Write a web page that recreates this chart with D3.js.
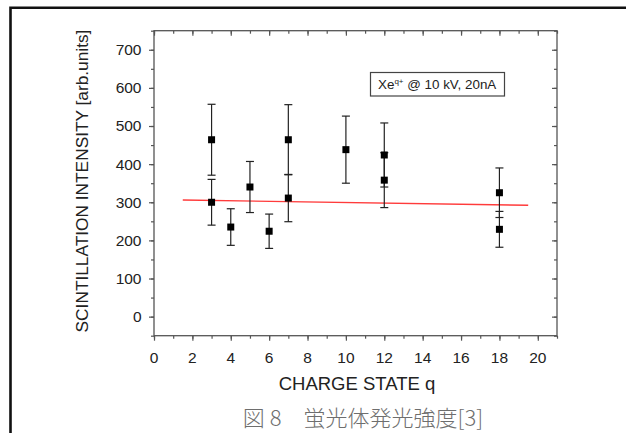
<!DOCTYPE html>
<html>
<head>
<meta charset="utf-8">
<script src="https://cdn.jsdelivr.net/npm/d3@7"></script>
<style>
  body { margin: 0; background: #fff; }
  svg { display: block; }
  text { font-family: "Liberation Sans", Arial, sans-serif; }
</style>
</head>
<body>
<svg width="626" height="433"></svg>
<script>
// data
const chargeState = [3, 3, 4, 5, 6, 7, 7, 10, 12, 12, 18, 18];
const intensity   = [464, 300, 235, 340, 224, 464, 311, 438, 424, 358, 325, 229];
const errors      = [93, 60, 48, 67, 45, 92, 62, 88, 84, 72, 65, 47];
const fitQ = [1.5, 19.5];
const fitI = [306, 292];
const xTicks = [0, 2, 4, 6, 8, 10, 12, 14, 16, 18, 20];
const yTicks = [0, 100, 200, 300, 400, 500, 600, 700];

const width = 626, height = 433;
const plot = { left: 154, right: 557, top: 30.7, bottom: 335.7 };
const svg = d3.select("svg");

const x = d3.scaleLinear().domain([0, 21]).range([plot.left, plot.right]);
const y = d3.scaleLinear().domain([-50, 750]).range([plot.bottom, plot.top]);

// outer page frame
svg.append("path")
  .attr("d", `M10.5,${height} V7.8 H${width}`)
  .attr("fill", "none").attr("stroke", "#111").attr("stroke-width", 2.6);

const axisColor = "#555";
const xMinor = d3.range(0, 22, 1);
const yMinor = d3.range(-50, 751, 50);

function drawTicks(axis, pos) {
  const g = svg.append("g").attr("transform", pos).call(axis);
  g.select(".domain").remove();
  g.selectAll("line").attr("stroke", axisColor).attr("stroke-width", 1.2);
  g.selectAll("text").remove();
  return g;
}

// minor + major ticks, bottom/left outward, top/right inward
drawTicks(d3.axisBottom(x).tickValues(xMinor).tickSize(3), `translate(0,${plot.bottom})`);
drawTicks(d3.axisBottom(x).tickValues(xTicks).tickSize(5), `translate(0,${plot.bottom})`);
drawTicks(d3.axisTop(x).tickValues(xMinor).tickSize(-3), `translate(0,${plot.top})`);
drawTicks(d3.axisTop(x).tickValues(xTicks).tickSize(-5), `translate(0,${plot.top})`);
drawTicks(d3.axisLeft(y).tickValues(yMinor).tickSize(3), `translate(${plot.left},0)`);
drawTicks(d3.axisLeft(y).tickValues(yTicks).tickSize(5), `translate(${plot.left},0)`);
drawTicks(d3.axisRight(y).tickValues(yMinor).tickSize(-3), `translate(${plot.right},0)`);
drawTicks(d3.axisRight(y).tickValues(yTicks).tickSize(-5), `translate(${plot.right},0)`);

// plot frame
svg.append("rect")
  .attr("x", plot.left).attr("y", plot.top)
  .attr("width", plot.right - plot.left).attr("height", plot.bottom - plot.top)
  .attr("fill", "none").attr("stroke", axisColor).attr("stroke-width", 1.3);

// tick labels
svg.append("g").selectAll("text").data(xTicks).join("text")
  .attr("x", d => x(d)).attr("y", 362.7)
  .attr("text-anchor", "middle")
  .style("font-size", "15.5px").attr("fill", "#222")
  .text(d => d);

svg.append("g").selectAll("text").data(yTicks).join("text")
  .attr("x", 141.5).attr("y", d => y(d)).attr("dy", "0.35em")
  .attr("text-anchor", "end")
  .style("font-size", "15.5px").attr("fill", "#222")
  .text(d => d);

// axis titles
svg.append("text")
  .attr("x", 357).attr("y", 390)
  .attr("text-anchor", "middle")
  .style("font-size", "18.5px").attr("fill", "#222")
  .text("CHARGE STATE q");

svg.append("text")
  .attr("transform", `translate(88,181) rotate(-90)`)
  .attr("text-anchor", "middle")
  .style("font-size", "17.3px").attr("fill", "#222")
  .text("SCINTILLATION INTENSITY [arb.units]");

// linear fit
svg.append("line")
  .attr("x1", x(fitQ[0])).attr("y1", y(fitI[0]))
  .attr("x2", x(fitQ[1])).attr("y2", y(fitI[1]))
  .attr("stroke", "#ff3b3b").attr("stroke-width", 1.4);

// error bars
const pts = chargeState.map((q, i) => ({ q: q, v: intensity[i], e: errors[i] }));
const eb = svg.append("g").attr("stroke", "#222").attr("stroke-width", 1.2);
eb.selectAll(".stem").data(pts).join("line")
  .attr("x1", d => x(d.q)).attr("x2", d => x(d.q))
  .attr("y1", d => y(d.v + d.e)).attr("y2", d => y(d.v - d.e));
eb.selectAll(".capTop").data(pts).join("line")
  .attr("x1", d => x(d.q) - 4).attr("x2", d => x(d.q) + 4)
  .attr("y1", d => y(d.v + d.e)).attr("y2", d => y(d.v + d.e));
eb.selectAll(".capBot").data(pts).join("line")
  .attr("x1", d => x(d.q) - 4).attr("x2", d => x(d.q) + 4)
  .attr("y1", d => y(d.v - d.e)).attr("y2", d => y(d.v - d.e));

// markers
svg.append("g").selectAll("rect").data(pts).join("rect")
  .attr("x", d => x(d.q) - 3.5).attr("y", d => y(d.v) - 3.5)
  .attr("width", 7).attr("height", 7)
  .attr("fill", "#000");

// legend box
svg.append("rect")
  .attr("x", 370.5).attr("y", 72.5).attr("width", 134).attr("height", 23.5)
  .attr("fill", "#fff").attr("stroke", "#444").attr("stroke-width", 1.2);

const lt = svg.append("text")
  .attr("x", 378).attr("y", 88.5)
  .style("font-size", "13.4px").attr("fill", "#222");
lt.append("tspan").text("Xe");
lt.append("tspan").attr("dy", -5).style("font-size", "8px").text("q+");
lt.append("tspan").attr("dy", 5).text(" @ 10 kV, 20nA");

// caption
svg.append("text")
  .attr("x", 363).attr("y", 426)
  .attr("text-anchor", "middle")
  .style("font-family", "'Noto Sans CJK JP', sans-serif")
  .style("font-size", "22px").style("font-weight", 300)
  .attr("fill", "#6e6e6e")
  .text("図 8　蛍光体発光強度[3]");
</script>
</body>
</html>
